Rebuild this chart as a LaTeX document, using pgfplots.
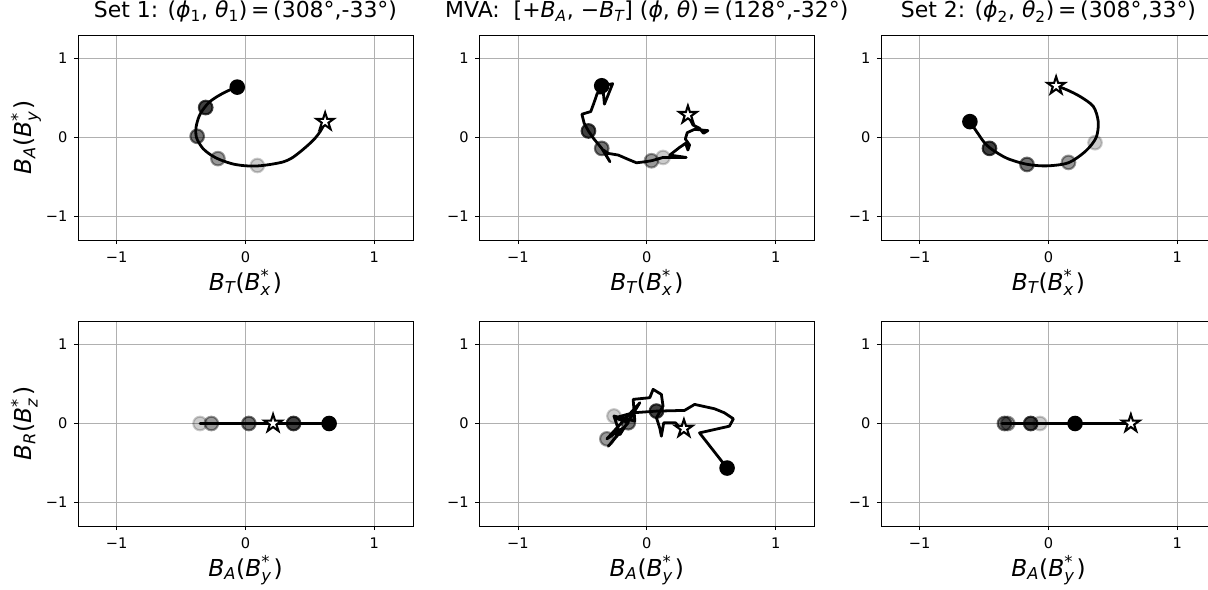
\documentclass[border=0pt]{standalone}
\usepackage{fontspec}
\setmainfont{DejaVu Sans}
\usepackage{amsmath}
\usepackage{pgfplots}
\pgfplotsset{compat=1.18}

\pgfdeclareplotmark{fstar}{%
  \pgfpathmoveto{\pgfpoint{0pt}{\pgfplotmarksize}}%
  \pgfpathlineto{\pgfpoint{-0.2245\pgfplotmarksize}{0.309\pgfplotmarksize}}%
  \pgfpathlineto{\pgfpoint{-0.951\pgfplotmarksize}{0.309\pgfplotmarksize}}%
  \pgfpathlineto{\pgfpoint{-0.363\pgfplotmarksize}{-0.118\pgfplotmarksize}}%
  \pgfpathlineto{\pgfpoint{-0.588\pgfplotmarksize}{-0.809\pgfplotmarksize}}%
  \pgfpathlineto{\pgfpoint{0pt}{-0.382\pgfplotmarksize}}%
  \pgfpathlineto{\pgfpoint{0.588\pgfplotmarksize}{-0.809\pgfplotmarksize}}%
  \pgfpathlineto{\pgfpoint{0.363\pgfplotmarksize}{-0.118\pgfplotmarksize}}%
  \pgfpathlineto{\pgfpoint{0.951\pgfplotmarksize}{0.309\pgfplotmarksize}}%
  \pgfpathlineto{\pgfpoint{0.2245\pgfplotmarksize}{0.309\pgfplotmarksize}}%
  \pgfpathclose
  \pgfusepathqfillstroke
}

\newcommand{\lab}[2]{\textit{B}$_{\textit{#1}}$(\textit{B}$^{\text{*}}_{\textit{#2}}$\hspace{0.08em})}
\newcommand{\gdot}[2]{\addplot[only marks, mark=*, mark size=4.9pt, mark options={draw=black, fill=black, draw opacity=#1, fill opacity=#1, line width=1.5pt}] coordinates {#2};}
\newcommand{\bdot}[1]{\addplot[only marks, mark=*, mark size=4.9pt, mark options={draw=black, fill=black, line width=1.4pt}] coordinates {#1};}
\newcommand{\sdot}[1]{\addplot[only marks, mark=fstar, mark size=6.6pt, mark options={draw=black, fill=white, line width=1.5pt, line join=miter}] coordinates {#1};}
\newcommand{\tfont}{\fontsize{10.5}{12}\selectfont}

\pgfplotsset{
  panel/.style={
    width=241.2pt, height=147.6pt, scale only axis, anchor=south west,
    xmin=-1.3, xmax=1.3, ymin=-1.3, ymax=1.3,
    xtick={-1,0,1}, ytick={-1,0,1},
    xticklabels={\tfont −1,\tfont 0,\tfont 1}, yticklabels={\tfont −1,\tfont 0,\tfont 1},
    grid=major, major grid style={color=black!31, line width=0.6pt},
    tick align=outside, tick pos=left, major tick length=2.9pt,
    every tick/.style={black, line width=0.65pt},
    axis line style={black, line width=0.65pt},
    xticklabel style={font=\tfont, yshift=-2.2pt},
    yticklabel style={font=\tfont, xshift=-1.2pt},
    title style={at={(axis description cs:0.5,1.044)}, anchor=base, font=\fontsize{15.8}{17}\selectfont},
    xlabel style={at={(axis description cs:0.5,-0.244)}, anchor=base, font=\fontsize{16.8}{18}\selectfont},
    ylabel style={at={(axis description cs:-0.138,0.5)}, anchor=base, rotate=0, font=\fontsize{16.8}{18}\selectfont},
  },
  curve/.style={black, line width=2pt, line join=round, line cap=round},
}

\begin{document}
\begin{tikzpicture}
\useasboundingbox (0,0) rectangle (869.76pt,424.8pt);

% ---------- Set 1 top ----------
\begin{axis}[panel, at={(56.16pt,252pt)},
  title={Set 1: (\textit{ϕ}$_{\text{1}}$, \textit{θ}$_{\text{1}}$)\,=\,(308°,-33°)},
  xlabel={\lab{T}{x}}, ylabel={\lab{A}{y}}]
\addplot[curve, smooth] coordinates {
(-0.064,0.639) (-0.14,0.59) (-0.219,0.52) (-0.28,0.45) (-0.322,0.372) (-0.36,0.27)
(-0.383,0.138) (-0.385,0.04) (-0.373,-0.032) (-0.33,-0.14) (-0.27,-0.22) (-0.2,-0.28)
(-0.1,-0.335) (0.0,-0.359) (0.1,-0.36) (0.2,-0.34) (0.296,-0.308) (0.36,-0.26)
(0.425,-0.181) (0.49,-0.09) (0.54,-0.01) (0.579,0.074) (0.605,0.15) (0.618,0.2)};
\gdot{0.75}{(-0.309,0.38)}
\gdot{0.55}{(-0.375,0.015)}
\gdot{0.4}{(-0.214,-0.268)}
\gdot{0.2}{(0.092,-0.355)}
\bdot{(-0.064,0.639)}
\sdot{(0.618,0.201)}
\end{axis}

% ---------- MVA top ----------
\begin{axis}[panel, at={(345.10pt,252pt)},
  title={MVA:\ \ [+\textit{B}$_{\textit{A}}$, −\textit{B}$_{\textit{T}}$] (\textit{ϕ}, \textit{θ})\,=\,(128°,-32°)},
  xlabel={\lab{T}{x}}]
\addplot[curve] coordinates {
(-0.350,0.656) (-0.265,0.682) (-0.329,0.423) (-0.337,0.563) (-0.384,0.563) (-0.409,0.444)
(-0.435,0.329) (-0.504,0.295) (-0.486,0.180) (-0.453,0.083) (-0.414,-0.011) (-0.350,-0.138)
(-0.286,-0.308) (-0.337,-0.159) (-0.299,-0.202) (-0.221,-0.223) (-0.144,-0.278) (-0.080,-0.321)
(-0.015,-0.308) (0.036,-0.295) (0.126,-0.253) (0.306,-0.253) (0.178,-0.223) (0.255,-0.125)
(0.301,-0.074) (0.319,-0.159) (0.332,-0.096) (0.299,-0.019) (0.314,0.062) (0.371,0.104)
(0.474,0.087) (0.440,0.053) (0.409,0.117) (0.358,0.159) (0.319,0.287)};
\gdot{0.75}{(-0.453,0.083)}
\gdot{0.55}{(-0.350,-0.138)}
\gdot{0.4}{(0.036,-0.295)}
\gdot{0.2}{(0.126,-0.253)}
\bdot{(-0.350,0.656)}
\sdot{(0.319,0.287)}
\end{axis}

% ---------- Set 2 top ----------
\begin{axis}[panel, at={(634.32pt,252pt)},
  title={Set 2: (\textit{ϕ}$_{\text{2}}$, \textit{θ}$_{\text{2}}$)\,=\,(308°,33°)},
  xlabel={\lab{T}{x}}]
\addplot[curve, smooth] coordinates {
(-0.61,0.201) (-0.56,0.08) (-0.5,-0.06) (-0.44,-0.15) (-0.321,-0.265) (-0.167,-0.34)
(-0.013,-0.36) (0.155,-0.32) (0.29,-0.17) (0.37,0.0) (0.386,0.2) (0.348,0.393)
(0.245,0.52) (0.142,0.605) (0.059,0.656)};
\gdot{0.75}{(-0.458,-0.138)}
\gdot{0.55}{(-0.167,-0.342)}
\gdot{0.4}{(0.155,-0.316)}
\gdot{0.2}{(0.361,-0.066)}
\bdot{(-0.61,0.201)}
\sdot{(0.059,0.656)}
\end{axis}

% ---------- Set 1 bottom ----------
\begin{axis}[panel, at={(56.16pt,46.08pt)},
  xlabel={\lab{A}{y}}, ylabel={\lab{R}{z}}]
\addplot[curve] coordinates {
(0.649,0) (0.52,0) (0.373,0) (0.138,0) (0.026,0) (-0.14,0) (-0.265,0) (-0.335,0) (-0.353,0)
(-0.34,0) (-0.181,0) (0.074,0) (0.214,0)};
\gdot{0.75}{(0.373,0)}
\gdot{0.55}{(0.026,0)}
\gdot{0.4}{(-0.265,0)}
\gdot{0.2}{(-0.353,0)}
\bdot{(0.649,0)}
\sdot{(0.214,0)}
\end{axis}

% ---------- MVA bottom ----------
\begin{axis}[panel, at={(345.10pt,46.08pt)},
  xlabel={\lab{A}{y}}]
\addplot[curve] coordinates {
(0.623,-0.565) (0.409,-0.119) (0.641,-0.034) (0.672,0.059) (0.602,0.136) (0.525,0.187)
(0.371,0.242) (0.293,0.166) (0.075,0.157) (-0.106,0.136) (-0.247,0.072) (-0.144,0.010)
(-0.299,-0.289) (-0.183,-0.055) (-0.310,-0.195) (-0.054,0.263) (-0.208,-0.140) (-0.255,0.095)
(-0.093,0.030) (-0.106,0.306) (0.023,0.327) (0.049,0.433) (0.113,0.369) (0.126,0.221)
(0.075,0.072) (0.100,-0.055) (0.113,-0.161) (0.131,0.008) (0.224,0.008) (0.255,-0.055)
(0.288,-0.064)};
\gdot{0.75}{(0.075,0.157)}
\gdot{0.55}{(-0.144,0.010)}
\gdot{0.4}{(-0.310,-0.195)}
\gdot{0.2}{(-0.255,0.095)}
\bdot{(0.623,-0.565)}
\sdot{(0.288,-0.064)}
\end{axis}

% ---------- Set 2 bottom ----------
\begin{axis}[panel, at={(634.32pt,46.08pt)},
  xlabel={\lab{A}{y}}]
\addplot[curve] coordinates {
(0.201,0) (0.08,0) (-0.138,0) (-0.265,0) (-0.342,0) (-0.36,0) (-0.316,0) (-0.17,0)
(-0.066,0) (0.0,0) (0.2,0) (0.393,0) (0.52,0) (0.639,0)};
\gdot{0.75}{(-0.138,0)}
\gdot{0.55}{(-0.342,0)}
\gdot{0.4}{(-0.316,0)}
\gdot{0.2}{(-0.066,0)}
\bdot{(0.206,0)}
\sdot{(0.639,0)}
\end{axis}
\end{tikzpicture}
\end{document}
